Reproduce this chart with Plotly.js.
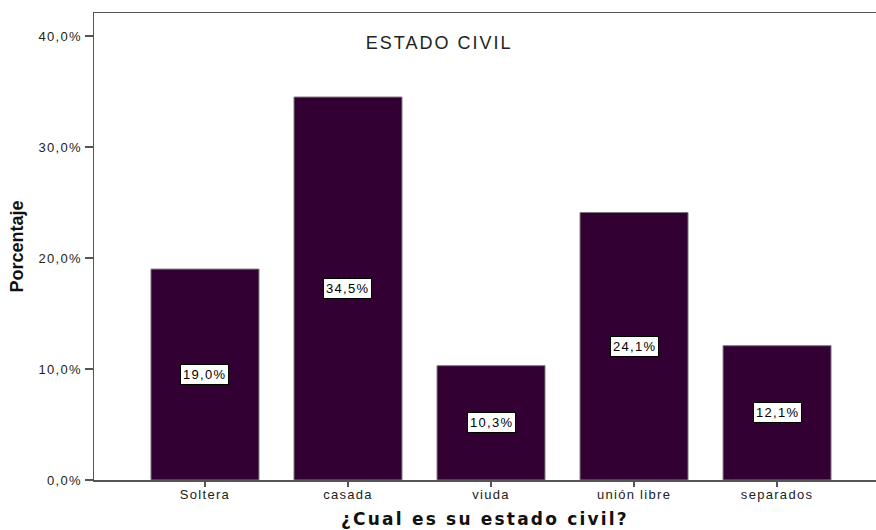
<!DOCTYPE html>
<html>
<head>
<meta charset="utf-8">
<script src="https://cdn.plot.ly/plotly-3.0.1.min.js"></script>
<style>
html,body{margin:0;padding:0;background:#fff;}
#chart{width:876px;height:530px;}
.xtick text, .ytick text { letter-spacing: 1.3px; }
.annotation-text { letter-spacing: 1.3px; }
.annotation[data-index="5"] .annotation-text { letter-spacing: 2px; }
.xtitle { letter-spacing: 2.2px; }
</style>
</head>
<body>
<div id="chart"></div>
<script>
const categories = ["Soltera", "casada", "viuda", "unión libre", "separados"];
const percentages = [19.0, 34.5, 10.3, 24.1, 12.1];
const valueLabels = ["19,0%", "34,5%", "10,3%", "24,1%", "12,1%"];
const yTickValues = [0, 10, 20, 30, 40];
const yTickLabels = ["0,0%", "10,0%", "20,0%", "30,0%", "40,0%"];
const chartTitle = "ESTADO CIVIL";
const xTitle = "¿Cual es su estado civil?";
const yTitle = "Porcentaje";

const W = 876, H = 530, L = 94, R = 0, T = 13, B = 50;
const pw = W - L - R, ph = H - T - B;

const trace = {
  type: "bar",
  x: categories.map((c, i) => i),
  y: percentages,
  marker: { color: "#330033", line: { color: "#7a7a7a", width: 1 } },
  hoverinfo: "none"
};

const annotations = categories.map((c, i) => ({
  x: i, y: percentages[i] / 2, xref: "x", yref: "y",
  xanchor: "center", yanchor: "middle",
  text: valueLabels[i], showarrow: false,
  font: { family: "Liberation Sans, Arial, sans-serif", size: 13, color: "#000" },
  bgcolor: "#ffffff", bordercolor: "#000000", borderwidth: 1, borderpad: 2
}));
annotations.push({
  x: (439 - L) / pw, y: (H - B - 43) / ph, xref: "paper", yref: "paper",
  xanchor: "center", yanchor: "middle",
  text: chartTitle, showarrow: false,
  font: { family: "Liberation Sans, Arial, sans-serif", size: 18, color: "#222" }
});

const layout = {
  width: W, height: H,
  margin: { l: L, r: R, t: T, b: B, pad: 0 },
  paper_bgcolor: "#fff", plot_bgcolor: "#fff",
  bargap: 0.245,
  showlegend: false,
  font: { family: "Liberation Sans, Arial, sans-serif", color: "#333" },
  xaxis: {
    range: [-0.776, 4.692],
    tickmode: "array", tickvals: categories.map((c, i) => i), ticktext: categories,
    ticks: "outside", ticklen: 5, tickwidth: 1.5, tickcolor: "#555",
    ticklabelstandoff: -3,
    showline: true, linecolor: "#555", linewidth: 1.5, mirror: true,
    showgrid: false, zeroline: false,
    tickfont: { size: 13, color: "#222" },
    title: { text: "<b>" + xTitle + "</b>", font: { family: "DejaVu Sans, sans-serif", size: 17, color: "#111" }, standoff: 12 }
  },
  yaxis: {
    range: [0, 42.07],
    tickmode: "array", tickvals: yTickValues, ticktext: yTickLabels,
    ticks: "outside", ticklen: 8, tickwidth: 1.5, tickcolor: "#555",
    showline: true, linecolor: "#555", linewidth: 1.5,
    showgrid: false, zeroline: false,
    tickfont: { size: 13, color: "#222" },
    title: { text: "<b>" + yTitle + "</b>", font: { family: "Liberation Sans Narrow, Liberation Sans, sans-serif", size: 18, color: "#111" }, standoff: 10 }
  },
  annotations: annotations
};

Plotly.newPlot("chart", [trace], layout, { staticPlot: true, displayModeBar: false });
</script>
</body>
</html>
